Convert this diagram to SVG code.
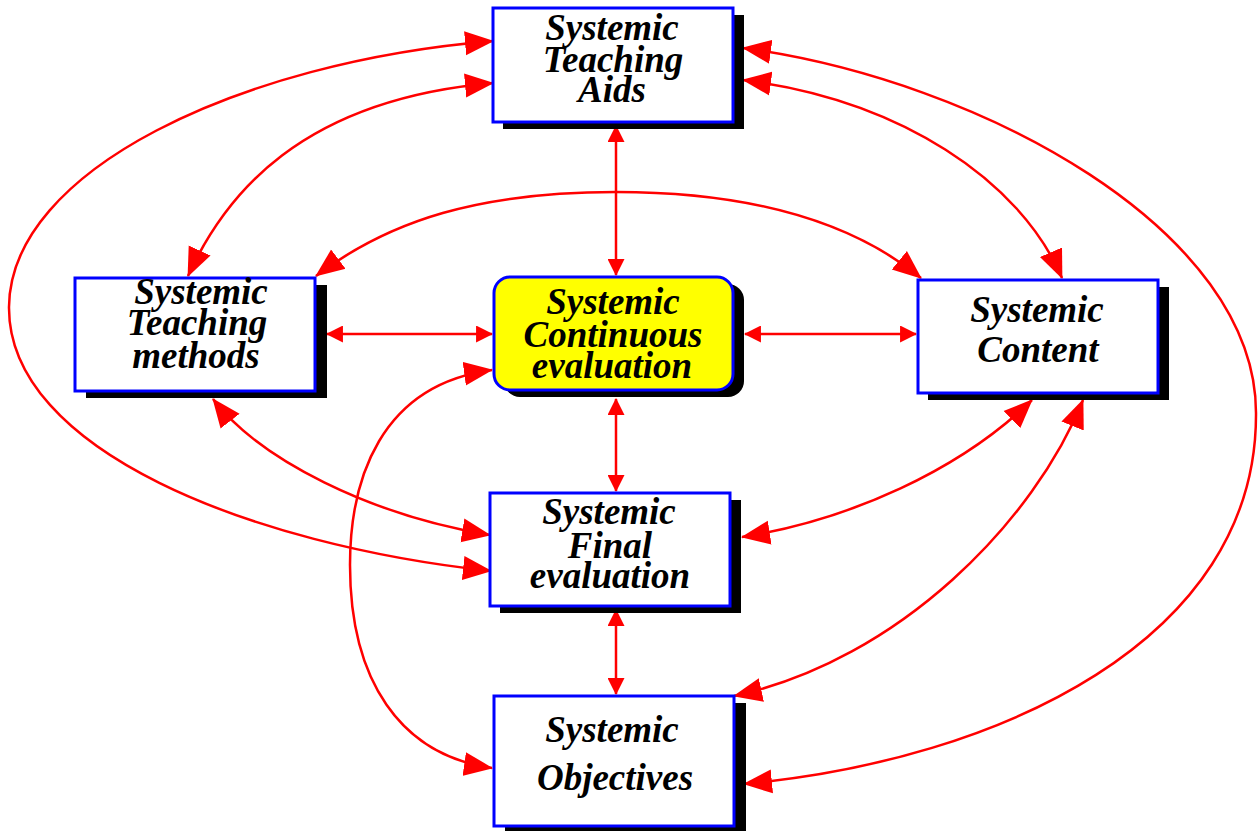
<svg xmlns="http://www.w3.org/2000/svg" width="1259" height="831" viewBox="0 0 1259 831">
<style>
  .box { fill: #ffffff; stroke: #0000ff; stroke-width: 3; }
  .cbox { fill: #ffff00; stroke: #0000ff; stroke-width: 3; }
  .shadow { fill: #000000; }
  .lbl { font-family: "Liberation Serif", "Times New Roman", serif; font-weight: bold; font-style: italic; font-size: 37px; fill: #000000; text-anchor: middle; }
  .conn { fill: none; stroke: #ff0000; stroke-width: 2.5; }
  .big { marker-start: url(#bigArrow); marker-end: url(#bigArrow); }
  .small { marker-start: url(#smallArrow); marker-end: url(#smallArrow); }
</style>
<defs>
  <marker id="bigArrow" markerUnits="userSpaceOnUse" markerWidth="30" markerHeight="26" refX="28" refY="12" orient="auto-start-reverse" viewBox="0 0 30 24">
    <path d="M0,0 L29,12 L0,24 Z" fill="#ff0000"/>
  </marker>
  <marker id="smallArrow" markerUnits="userSpaceOnUse" markerWidth="17" markerHeight="17" refX="15" refY="8" orient="auto-start-reverse" viewBox="0 0 16 16">
    <path d="M0,0 L16,8 L0,16 Z" fill="#ff0000"/>
  </marker>
</defs>
<rect width="1259" height="831" fill="#ffffff"/>

<g id="connectors">
  <path class="conn small" d="M616,126 L616,275"/>
  <path class="conn small" d="M616,399 L616,491"/>
  <path class="conn small" d="M616,610 L616,694"/>
  <path class="conn small" d="M327,334 L492,334"/>
  <path class="conn small" d="M745,334 L916,334"/>
  <path class="conn big" d="M493,41 C240,62 10,170 9,307 C8,450 250,545 491,571"/>
  <path class="conn big" d="M493,83 C300,100 225,195 188,276"/>
  <path class="conn big" d="M743,80 C900,100 1020,180 1062,278"/>
  <path class="conn big" d="M316,276 C390,220 480,192 616,192 C750,192 850,220 921,278"/>
  <path class="conn big" d="M743,48 C980,80 1258,230 1256,415 C1256,640 1000,760 744,784"/>
  <path class="conn big" d="M1032,400 C960,470 850,520 742,537"/>
  <path class="conn big" d="M1083,400 C1035,520 900,660 734,696"/>
  <path class="conn big" d="M213,399 C260,460 370,515 490,535"/>
  <path class="conn big" d="M492,370 C380,385 350,480 350,565 C350,680 400,755 492,768"/>
</g>

<g id="aids">
  <rect class="shadow" x="503" y="15" width="241" height="114"/>
  <rect class="box" x="493" y="8" width="240" height="114"/>
  <text class="lbl" x="612" y="40">Systemic</text>
  <text class="lbl" x="613" y="72">Teaching</text>
  <text class="lbl" x="612" y="102">Aids</text>
</g>

<g id="methods">
  <rect class="shadow" x="86" y="285" width="241" height="113"/>
  <rect class="box" x="75" y="278" width="240" height="113"/>
  <text class="lbl" x="201" y="304">Systemic</text>
  <text class="lbl" x="197" y="335">Teaching</text>
  <text class="lbl" x="196" y="368">methods</text>
</g>

<g id="continuous">
  <rect class="shadow" x="504" y="284" width="240" height="113" rx="16"/>
  <rect class="cbox" x="494" y="277" width="239" height="113" rx="16"/>
  <text class="lbl" x="613" y="314">Systemic</text>
  <text class="lbl" x="613" y="347">Continuous</text>
  <text class="lbl" x="612" y="378">evaluation</text>
</g>

<g id="content">
  <rect class="shadow" x="928" y="287" width="241" height="113"/>
  <rect class="box" x="918" y="280" width="240" height="113"/>
  <text class="lbl" x="1037" y="322">Systemic</text>
  <text class="lbl" x="1038" y="362">Content</text>
</g>

<g id="final">
  <rect class="shadow" x="500" y="500" width="241" height="113"/>
  <rect class="box" x="490" y="493" width="240" height="113"/>
  <text class="lbl" x="609" y="524">Systemic</text>
  <text class="lbl" x="610" y="558">Final</text>
  <text class="lbl" x="610" y="588">evaluation</text>
</g>

<g id="objectives">
  <rect class="shadow" x="505" y="703" width="241" height="140"/>
  <rect class="box" x="494" y="696" width="240" height="130"/>
  <text class="lbl" x="612" y="742">Systemic</text>
  <text class="lbl" x="615" y="790">Objectives</text>
</g>
</svg>
